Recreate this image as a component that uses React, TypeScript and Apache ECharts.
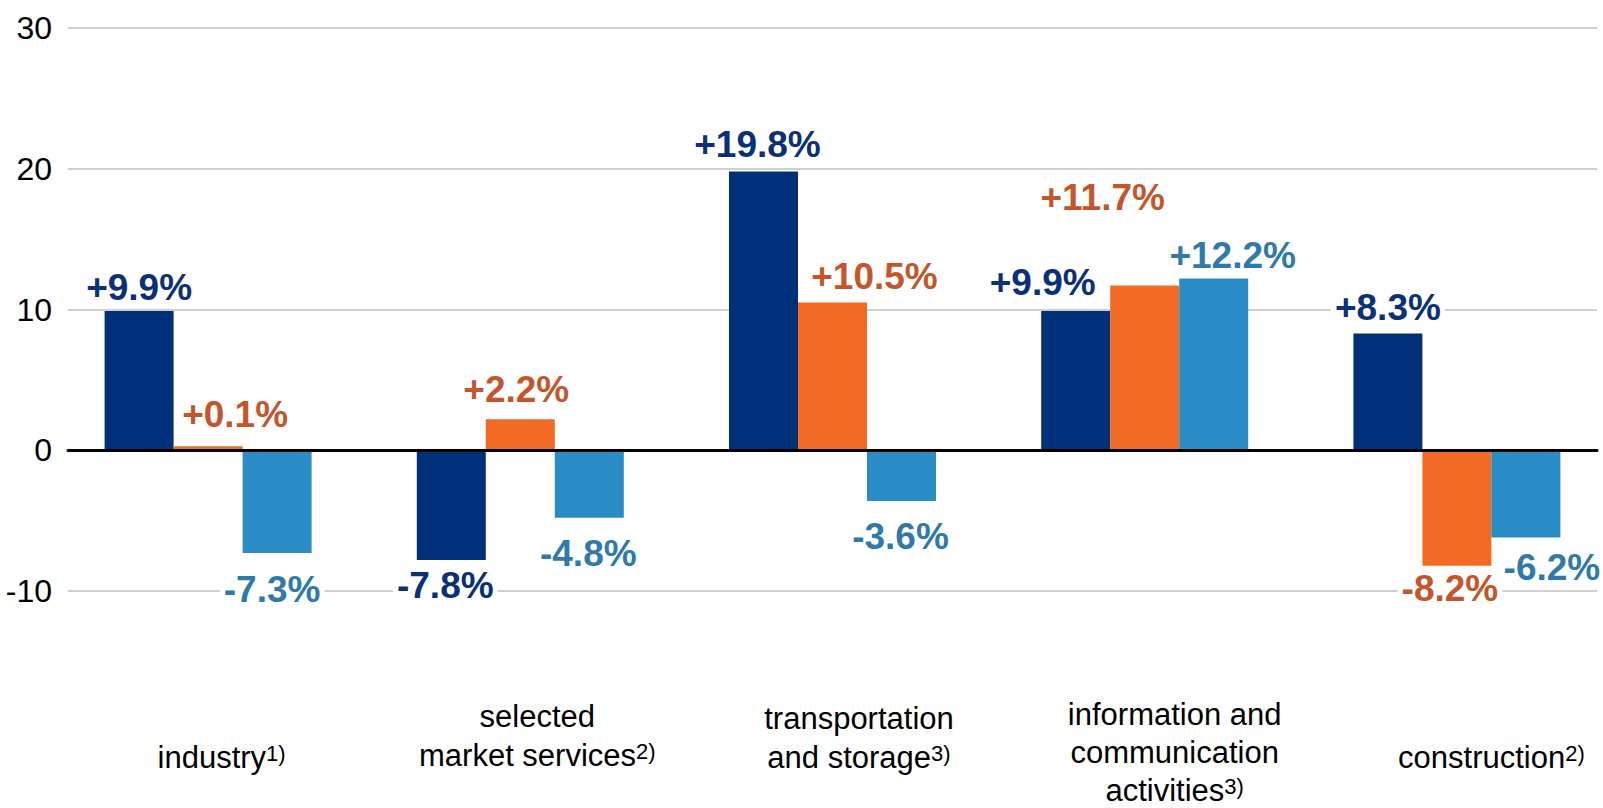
import React, { useEffect, useRef } from "react";
import * as echarts from "echarts";

// ---------- data ----------
const categories = [
  "industry",
  "selected\nmarket services",
  "transportation\nand storage",
  "information and\ncommunication\nactivities",
  "construction",
];
const footnotes = ["1)", "2)", "3)", "3)", "2)"];
const seriesNames = ["Series 1", "Series 2", "Series 3"];
const series1Values = [9.9, -7.8, 19.8, 9.9, 8.3];
const series2Values = [0.1, 2.2, 10.5, 11.7, -8.2];
const series3Values = [-7.3, -4.8, -3.6, 12.2, -6.2];
const yMin = -10;
const yMax = 30;
const yStep = 10;

// ---------- styling ----------
const FONT = "'Liberation Sans', Arial, Helvetica, sans-serif";
const LABEL_SIZE = 37;
const barColors = ["#003079", "#F26A23", "#2A8CC4"];
const labelColors = ["#0A3079", "#C5562B", "#2F7AAB"];

// manual label nudges (dx in px, distance of label centre from bar end in px)
const labelPlacement = [
  { dx: [0, -6, -6, -33, 0], away: [23, 25, 27, 28.5, 26] },
  { dx: [27, -4, 42, -42, -7], away: [31.6, 29.5, 26, 88, 22.6] },
  { dx: [-5, -1, -1, 19, 26], away: [37, 35.5, 36, 23, 29.5] },
];
// category label nudges
const catShift = [
  { dx: 13.5, top: 43, lh: 39 },
  { dx: 17, top: 2, lh: 39 },
  { dx: 26.5, top: 4, lh: 39 },
  { dx: 30, top: 0, lh: 38 },
  { dx: 34.5, top: 43, lh: 39 },
];

const fmtPct = (v: number) => (v > 0 ? "+" : "") + v.toFixed(1) + "%";

function buildOption() {
  const allSeries = [series1Values, series2Values, series3Values];
  return {
    animation: false,
    backgroundColor: "#ffffff",
    grid: [
      { left: 68, right: 6, top: 28, bottom: 217, outerBoundsMode: "none", containLabel: false },
      { left: 52, width: 1561, top: 28, bottom: 217, outerBoundsMode: "none", containLabel: false },
    ],
    xAxis: [
      {
        gridIndex: 0,
        type: "value",
        min: 0,
        max: 1,
        z: 10,
        axisLine: { show: true, onZero: true, lineStyle: { color: "#000000", width: 3 } },
        axisTick: { show: false },
        axisLabel: { show: false },
        splitLine: { show: false },
      },
      {
        gridIndex: 1,
        type: "category",
        data: categories.map((c, i) => ({
          value: c,
          textStyle: {
            padding: [catShift[i].top, 0, 0, catShift[i].dx * 2],
            lineHeight: catShift[i].lh,
          },
        })),
        axisLine: { show: false, onZero: false },
        axisTick: { show: false },
        axisLabel: {
          interval: 0,
          margin: 104,
          fontSize: 31,
          lineHeight: 39,
          color: "#000000",
          fontFamily: FONT,
          formatter: (value: string, index: number) => value + "{sup|" + footnotes[index] + "}",
          rich: {
            sup: { fontSize: 22, fontFamily: FONT, color: "#000000", padding: [0, 0, 8, 0] },
          },
        },
        splitLine: { show: false },
      },
    ],
    yAxis: [
      {
        gridIndex: 0,
        type: "value",
        min: yMin,
        max: yMax,
        interval: yStep,
        axisLine: { show: false },
        axisTick: { show: false },
        axisLabel: { fontSize: 32, color: "#000000", margin: 16, fontFamily: FONT },
        splitLine: { show: true, lineStyle: { color: "#BFBFBF", width: 1.5 } },
      },
      {
        gridIndex: 1,
        type: "value",
        min: yMin,
        max: yMax,
        interval: yStep,
        show: false,
        splitLine: { show: false },
      },
    ],
    series: allSeries.map((vals, s) => ({
      type: "bar",
      name: seriesNames[s],
      xAxisIndex: 1,
      yAxisIndex: 1,
      barWidth: 69,
      barGap: "0%",
      barMinHeight: 4,
      itemStyle: { color: barColors[s] },
      emphasis: { disabled: true },
      label: {
        show: true,
        fontSize: LABEL_SIZE,
        fontWeight: "bold",
        fontFamily: FONT,
        color: labelColors[s],
        backgroundColor: "#ffffff",
        padding: [0, 4],
        formatter: (p: any) => fmtPct(p.value),
      },
      data: vals.map((v, i) => ({
        value: v,
        label: {
          position: v >= 0 ? "top" : "bottom",
          distance: labelPlacement[s].away[i] - LABEL_SIZE / 2,
          offset: [labelPlacement[s].dx[i], 0],
        },
      })),
    })),
  };
}

export default function App() {
  const ref = useRef<HTMLDivElement>(null);
  useEffect(() => {
    if (!ref.current) return;
    const chart = echarts.init(ref.current, null, { renderer: "svg" });
    chart.setOption(buildOption() as any);
    return () => chart.dispose();
  }, []);
  return (
    <div
      ref={ref}
      style={{ position: "fixed", left: 0, top: 0, width: 1603, height: 808, background: "#ffffff" }}
    />
  );
}
